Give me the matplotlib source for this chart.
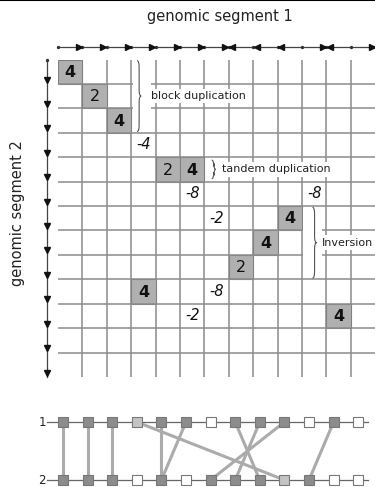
import matplotlib
matplotlib.use('Agg')
import matplotlib.pyplot as plt
from matplotlib.patches import Rectangle, PathPatch
from matplotlib.path import Path
from matplotlib.lines import Line2D

plt.rcParams['font.family'] = ['DejaVu Sans']

# gene orientations (+1 = forward, -1 = reverse)
seg1_orient = [1, 1, 1, 1, 1, 1, 1, -1, -1, -1, 1, -1, 1]
seg2_orient = [1] * 13

# matrix cells: matching gene pairs (row = segment 2, col = segment 1)
match_rows = [0, 1, 2, 4, 4, 6, 7, 8, 9, 10]
match_cols = [0, 1, 2, 4, 5, 9, 8, 7, 3, 11]
match_vals = [4, 2, 4, 2, 4, 4, 4, 2, 4, 4]

# gap penalties
gap_rows = [3, 5, 5, 6, 9, 10]
gap_cols = [3, 5, 10, 6, 6, 5]
gap_vals = [-4, -8, -8, -2, -8, -2]

# annotations: label, first row, last row, brace column, text column
notes = ['block duplication', 'tandem duplication', 'Inversion']
note_row0 = [0, 4, 6]
note_row1 = [2, 4, 8]
note_brace = [3.24, 6.3, 10.43]
note_textx = [3.8, 6.72, 10.82]

# bottom diagram box states: d = matched, l = light (distant), w = unmatched
seg1_state = ['d', 'd', 'd', 'l', 'd', 'd', 'w', 'd', 'd', 'd', 'w', 'd', 'w']
seg2_state = ['d', 'd', 'd', 'w', 'd', 'w', 'd', 'd', 'd', 'l', 'd', 'w', 'w']

n = 13
grid_col = '#8c8c8c'
cell_col = '#b0b0b0'
box_fill = {'d': '#8c8c8c', 'l': '#c4c4c4', 'w': 'white'}


def brace(ax, x0, y0, y1, w):
    ym = (y0 + y1) / 2
    r = 0.25
    xm = x0 + w / 2
    verts = [(x0, y0), (xm, y0), (xm, y0 + r), (xm, ym - r),
             (xm, ym), (x0 + w, ym), (xm, ym), (xm, ym + r),
             (xm, y1 - r), (xm, y1), (x0, y1)]
    codes = [Path.MOVETO, Path.CURVE3, Path.CURVE3, Path.LINETO,
             Path.CURVE3, Path.CURVE3, Path.CURVE3, Path.CURVE3,
             Path.LINETO, Path.CURVE3, Path.CURVE3]
    ax.add_patch(PathPatch(Path(verts, codes), fc='none', ec='#555555',
                           lw=0.8, zorder=6))


fig = plt.figure(figsize=(3.75, 4.87), dpi=100)
fig.add_artist(Line2D([0, 1], [1, 1], transform=fig.transFigure,
                      color='black', lw=1.5))

ax = fig.add_axes([58 / 375, 1 - 377 / 487, 317.2 / 375, 317.5 / 487])
ax.set_xlim(0, n)
ax.set_ylim(n, 0)
ax.axis('off')

# grid lines (inner ones only)
for i in range(1, n):
    ax.plot([i, i], [0, n], color=grid_col, lw=1.1, zorder=1)
    ax.plot([0, n], [i, i], color=grid_col, lw=1.1, zorder=3)

for r, c, v in zip(match_rows, match_cols, match_vals):
    ax.add_patch(Rectangle((c, r), 1, 1, fc=cell_col, ec='#808080',
                           lw=0.8, zorder=2))
    ax.text(c + 0.5, r + 0.53, str(v), ha='center', va='center',
            fontsize=11.5, fontweight='bold' if v == 4 else 'normal',
            color='#111111', zorder=4)

for r, c, v in zip(gap_rows, gap_cols, gap_vals):
    ax.text(c + 0.5, r + 0.5, str(v), ha='center', va='center',
            fontsize=10.5, style='italic', color='#111111', zorder=4)

for lab, r0, r1, bx, tx in zip(notes, note_row0, note_row1, note_brace,
                               note_textx):
    if r1 > r0:
        ax.add_patch(Rectangle((int(bx) + 0.06, r0 + 0.1), 0.75,
                               r1 - r0 + 0.8, fc='white', ec='none',
                               zorder=3.5))
        brace(ax, bx, r0 + 0.05, r1 + 0.95, 0.17)
    else:
        brace(ax, bx, r0 + 0.12, r1 + 0.88, 0.17)
    ax.text(tx, (r0 + r1 + 1) / 2, lab, ha='left', va='center',
            fontsize=8, color='#222222', zorder=4,
            bbox=dict(boxstyle='square,pad=0.2', fc='white', ec='none'))

# segment 1 axis (top)
ty = -0.51
ax.plot([0, n], [ty, ty], color='#444444', lw=0.9, clip_on=False)
ax.plot(range(n + 1), [ty] * (n + 1), 'o', ms=1.4, color='#333333',
        clip_on=False)
for i, o in enumerate(seg1_orient):
    if o > 0:
        ax.plot(i + 1 - 0.14, ty, '>', ms=4.5, color='#111111', clip_on=False)
    else:
        ax.plot(i + 0.14, ty, '<', ms=4.5, color='#111111', clip_on=False)

# segment 2 axis (left)
lx = -0.47
ax.plot([lx, lx], [0, n], color='#444444', lw=0.9, clip_on=False)
ax.plot([lx], [0], 'o', ms=1.4, color='#333333', clip_on=False)
for j, o in enumerate(seg2_orient):
    ax.plot(lx, j + 1 - 0.18, 'v' if o > 0 else '^', ms=4.5,
            color='#111111', clip_on=False)

fig.text(220 / 375, 1 - 17 / 487, 'genomic segment 1', ha='center',
         va='center', fontsize=10.5, color='#222222')
fig.text(18 / 375, 1 - 213 / 487, 'genomic segment 2', ha='center',
         va='center', rotation=90, fontsize=10.5, color='#222222')

# bottom: gene order diagram
ax2 = fig.add_axes([38 / 375, 0, 337 / 375, 87 / 487])
ax2.set_xlim((38 - 63) / 24.6, (375 - 63) / 24.6)
ax2.set_ylim(-7 / 58, 1 + 22 / 58)
ax2.axis('off')

for yy, lab in [(1, '1'), (0, '2')]:
    ax2.plot([-0.65, 12.4], [yy, yy], color='#666666', lw=0.9, zorder=1)
    ax2.text(-0.85, yy, lab, ha='center', va='center', fontsize=8.5,
             color='#222222')

for r, c in zip(match_rows, match_cols):
    ax2.plot([c, r], [1, 0], color='#ababab', lw=2.2, zorder=2,
             solid_capstyle='butt')

for i, s in enumerate(seg1_state):
    ax2.plot(i, 1, 's', ms=7, mfc=box_fill[s], mec='#777777', mew=0.8,
             zorder=3)
for i, s in enumerate(seg2_state):
    ax2.plot(i, 0, 's', ms=7, mfc=box_fill[s], mec='#777777', mew=0.8,
             zorder=3)

fig.savefig('out.png', dpi=100)
